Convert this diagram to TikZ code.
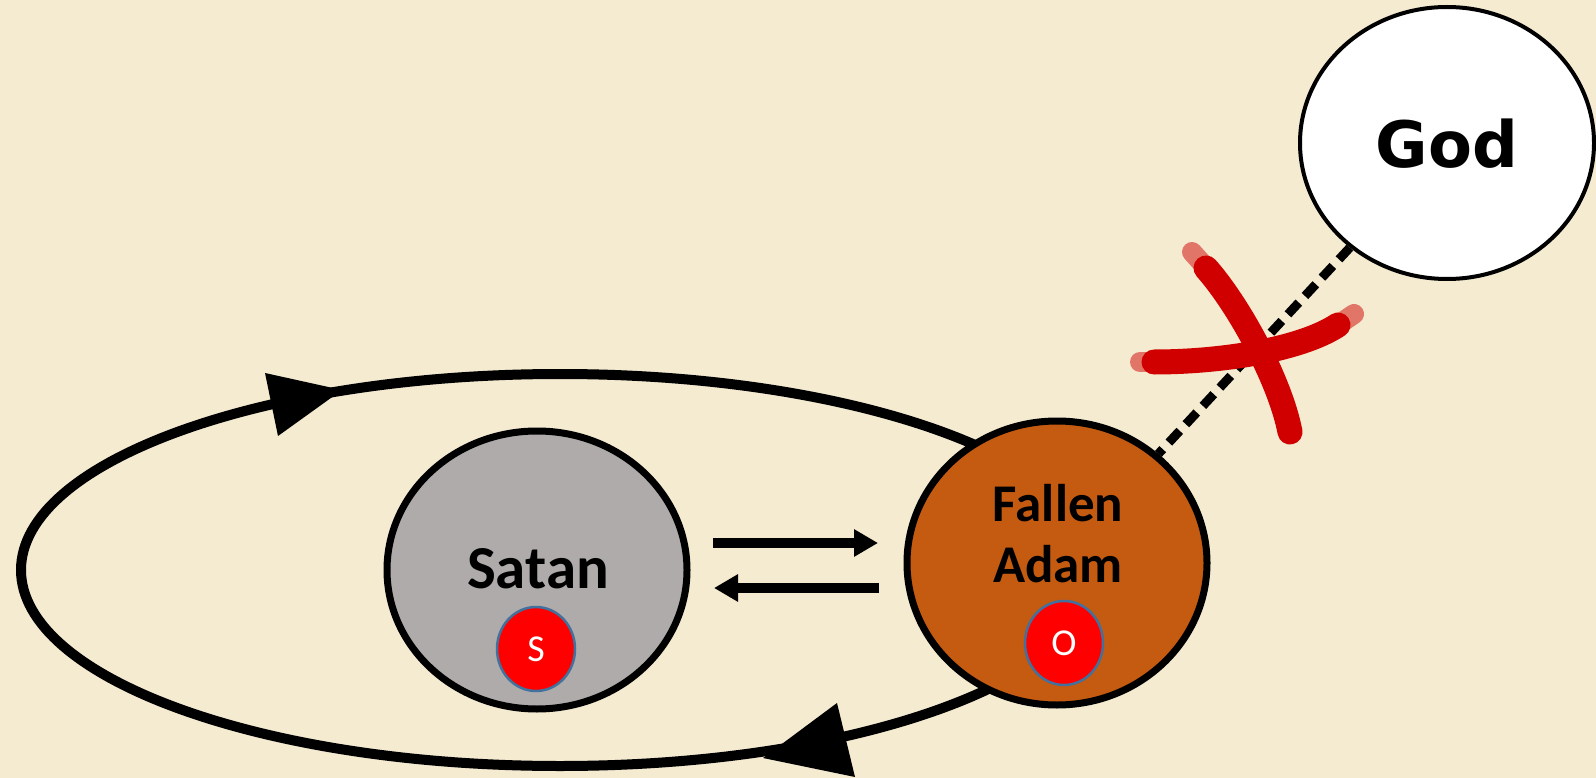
\documentclass[tikz,border=0pt]{standalone}
\usepackage{fontspec}
\setmainfont{Carlito}
\newfontfamily\godfont{DejaVu Sans}
\usetikzlibrary{arrows.meta,shapes.geometric}
\definecolor{bg}{HTML}{F4EBD1}
\definecolor{satangray}{HTML}{AFABAB}
\definecolor{adamorange}{HTML}{C55A11}
\definecolor{dotblue}{HTML}{41719C}
\definecolor{crossred}{HTML}{D00000}
\tikzset{
  bigcirc/.style={ellipse, draw=black, line width=7pt, inner sep=0pt},
  dotc/.style={ellipse, draw=dotblue, line width=2.5pt, fill=red, inner sep=0pt,
    minimum width=78pt, minimum height=84pt, text=white, font=\fontsize{38}{38}\selectfont},
  lbl/.style={font=\bfseries\fontsize{61}{61}\selectfont, anchor=base},
  lbla/.style={font=\bfseries\fontsize{53}{53}\selectfont, anchor=base},
  flow/.style={line width=9.5pt, -{Triangle[length=24pt,width=26pt]}},
  brush/.style={line width=25pt, crossred, line cap=round},
  brushtip/.style={line width=20pt, crossred, line cap=round, opacity=0.5}
}
\begin{document}
\begin{tikzpicture}[x=1pt,y=-1pt]
\fill[bg] (0,0) rectangle (1596,778);
\useasboundingbox (0,0) rectangle (1596,778);
% big cycle
\draw[line width=10pt] (560,570) ellipse [x radius=539, y radius=196];
\fill (265,373) -- (342,390) -- (278,436) -- cycle;
\fill (763,758) -- (837,703) -- (855,777) -- cycle;
% nodes
\node[bigcirc, fill=satangray, minimum width=300pt, minimum height=278pt] (satan) at (537,570) {};
\node[bigcirc, fill=adamorange, minimum width=300pt, minimum height=284pt] (adam) at (1057,563) {};
\node[ellipse, draw=black, line width=4pt, fill=white, inner sep=0pt, minimum width=294pt, minimum height=272pt] (god) at (1447,143) {};
\node[lbl] (satantext) at (538,588) {Satan};
\node[lbla] (fallentext) at (1058,521) {Fallen};
\node[lbla] (adamtext) at (1058,582) {Adam};
\node[font=\godfont\bfseries\fontsize{64}{64}\selectfont, anchor=base] (godtext) at (1447,168) {God};
\node[dotc] (s) at (536,649) {S};
\node[dotc] (o) at (1064,643) {O};
% arrows between
\coordinate (a1) at (713,543);
\coordinate (a2) at (878,543);
\coordinate (b1) at (879,588);
\coordinate (b2) at (714,588);
\draw[flow] (a1) -- (a2);
\draw[flow] (b1) -- (b2);
% broken link
\draw[line width=9pt, dash pattern=on 16pt off 9pt] (god) -- (adam);
% red cross (brush strokes with faded ends)
\draw[brushtip] (1192,252) -- (1210,272);
\draw[brushtip] (1140,362) -- (1160,362);
\draw[brushtip] (1335,327) -- (1354,314);
\draw[brush] (1206,268) .. controls (1238,304) and (1280,380) .. (1290,432);
\draw[brush] (1154,362) .. controls (1220,362) and (1300,350) .. (1338,325);
\end{tikzpicture}
\end{document}
